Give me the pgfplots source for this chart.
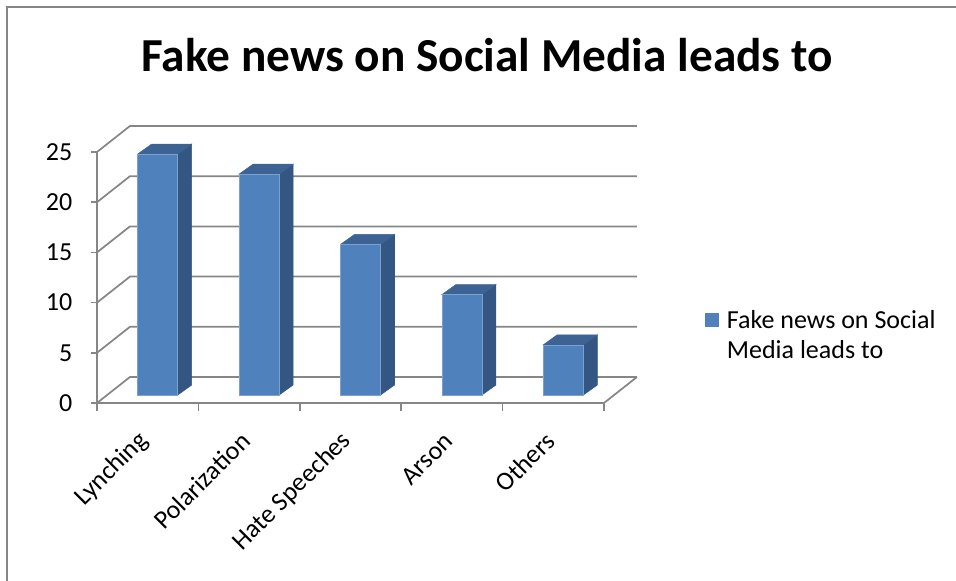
\documentclass[border=0pt]{standalone}
\usepackage{pgfplots}
\pgfplotsset{compat=1.18}
\usepackage{pgfplotstable}
\usepackage{fontspec}
\setmainfont{Carlito}
\definecolor{barfront}{RGB}{79,129,189}
\definecolor{baredge}{RGB}{125,160,205}
\definecolor{barside}{RGB}{52,86,130}
\definecolor{bartop}{RGB}{60,99,148}
\definecolor{gridc}{RGB}{134,134,134}
\pgfplotstableread{
x v
0.5 24
1.5 22
2.5 15
3.5 10
4.5 5
}\datatable
\begin{document}
\begin{tikzpicture}
\path[use as bounding box] (0,0) rectangle (717pt,-435.75pt);
\draw[color=gridc, line width=1.5pt] (5.25pt,-435.75pt) -- (5.25pt,-5.25pt) -- (717pt,-5.25pt);
\node[font=\fontsize{35.5}{38}\selectfont\bfseries, anchor=base] at (365.25pt,-54pt) {Fake news on Social Media leads to};
\begin{axis}[
  at={(72.75pt,-302.25pt)}, anchor=south west,
  scale only axis, width=380.25pt, height=188.25pt,
  xmin=0, xmax=5, ymin=0, ymax=25, clip=false,
  axis x line*=bottom, axis y line*=left,
  axis line style={gridc, line width=1.3pt, -},
  ytick={0,5,10,15,20,25},
  xtick={0.5,1.5,2.5,3.5,4.5},
  xticklabels={Lynching,Polarization,Hate Speeches,Arson,Others},
  minor xtick={0,1,2,3,4,5},
  tick align=outside,
  major tick length=4.5pt, minor tick length=6pt,
  tick style={gridc, line width=1.3pt},
  major x tick style={draw=none},
  ticklabel style={font=\fontsize{19.5}{21}\selectfont, text=black},
  /pgf/number format/assume math mode=true,
  xticklabel style={rotate=45, anchor=east},
  xticklabel shift=18.5pt,
  yticklabel shift=10.5pt,
  legend style={draw=none, fill=none, at={(axis description cs:1.199,0.303)}, anchor=west,
    inner sep=0pt, outer sep=0pt, nodes={inner sep=0pt}, column sep=6pt,
    font=\fontsize{19.5}{22.5}\selectfont},
  legend cell align=left,
]
\pgfplotsinvokeforeach{0,5,10,15,20,25}{
  \draw[gridc, line width=1.3pt] (axis cs:0,#1) -- (axis cs:0.325,{#1+2.59}) -- (axis cs:5.325,{#1+2.59});
}
\draw[gridc, line width=1.3pt] (axis cs:5,0) -- (axis cs:5.325,2.59);
\addplot[forget plot, scatter, only marks, mark=square*,
  visualization depends on={\thisrow{v} \as \val},
  scatter/@pre marker code/.code={%
    \fill[barside] (22.5pt,{6pt-\val*7.53pt}) -- (33pt,{13.5pt-\val*7.53pt}) -- (33pt,13.5pt) -- (22.5pt,6pt) -- cycle;
    \fill[bartop] (-7.5pt,6pt) -- (22.5pt,6pt) -- (33pt,13.5pt) -- (3pt,13.5pt) -- cycle;
    \filldraw[fill=barfront, draw=baredge, line width=0.4pt] (-7.5pt,{6pt-\val*7.53pt}) rectangle (22.5pt,6pt);
    \scope[opacity=0]%
  },
  scatter/@post marker code/.code={\endscope},
] table[x=x,y=v]{\datatable};
\addlegendimage{legend image code/.code={%
    \fill[barfront, draw=none] (0pt,-0.4pt) rectangle (10.5pt,10.1pt);
    \path[draw=none, fill=none] (0pt,-17.25pt) rectangle (10.5pt,17.25pt);
  }}
\addlegendentry{\begin{tabular}{@{}l@{}}Fake news on Social\\Media leads to\end{tabular}}
\end{axis}
\end{tikzpicture}
\end{document}
